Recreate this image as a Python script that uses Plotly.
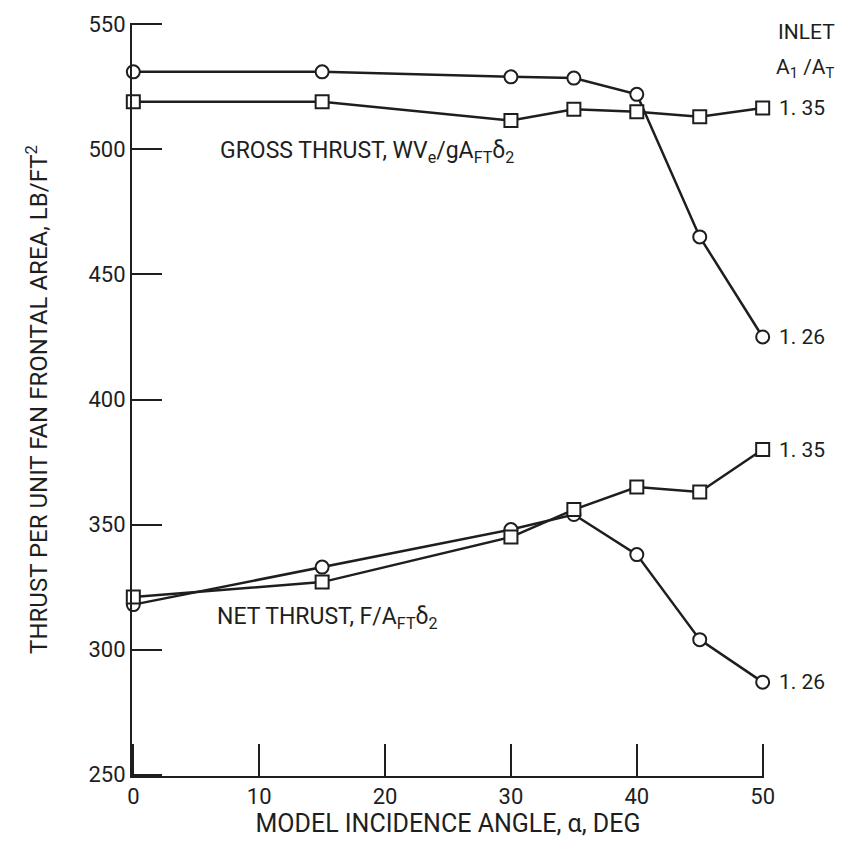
import plotly.graph_objects as go

angle = [0, 15, 30, 35, 40, 45, 50]

gross_126 = [531, 531, 529, 528.5, 522, 465, 425]
gross_135 = [519, 519, 511.5, 516, 515, 513, 516.5]
net_126 = [318, 333, 348, 354, 338, 304, 287]
net_135 = [321, 327, 345, 356, 365, 363, 380]

x_ticks = [0, 10, 20, 30, 40, 50]
y_ticks = [250, 300, 350, 400, 450, 500, 550]

FONT = "Roboto, Liberation Sans, sans-serif"
INK = "#1e1e1e"

fig = go.Figure()

def add(y, sym):
    fig.add_trace(go.Scatter(
        x=angle, y=y, mode="lines+markers",
        line=dict(color=INK, width=2.5),
        marker=dict(symbol=sym, size=13, color="white",
                    line=dict(color=INK, width=2)),
        showlegend=False, cliponaxis=False))

add(gross_126, "circle")
add(gross_135, "square")
add(net_126, "circle")
add(net_135, "square")

ann = []
def label(x, y, text, xanchor="left", xshift=0, yshift=0, size=21):
    ann.append(dict(x=x, y=y, text=text, showarrow=False, xanchor=xanchor,
                    yanchor="middle", xshift=xshift, yshift=yshift,
                    font=dict(family=FONT, size=size, color=INK)))

label(50, gross_135[-1], "1. 35", xshift=14)
label(50, gross_126[-1], "1. 26", xshift=14)
label(50, net_135[-1], "1. 35", xshift=14)
label(50, net_126[-1], "1. 26", xshift=14)
label(6.7, 499, "GROSS THRUST, WV<sub>e</sub>/gA<sub>FT</sub>δ<sub>2</sub>", size=23)
label(6.5, 312.5, "NET THRUST, F/A<sub>FT</sub>δ<sub>2</sub>", size=23)
ann.append(dict(xref="paper", yref="paper", x=1.0, y=1.0, xshift=42, yshift=-9,
                text="INLET", showarrow=False, xanchor="center", yanchor="middle",
                font=dict(family=FONT, size=21, color=INK)))
ann.append(dict(xref="paper", yref="paper", x=1.0, y=1.0, xshift=41, yshift=-45,
                text="A<sub>1</sub> /A<sub>T</sub>", showarrow=False, xanchor="center",
                yanchor="middle", font=dict(family=FONT, size=21, color=INK)))

fig.update_layout(
    width=844, height=845,
    margin=dict(l=132, r=80, t=18, b=69),
    paper_bgcolor="white", plot_bgcolor="white",
    annotations=ann,
    xaxis=dict(range=[-0.105, 50.105], tickvals=x_ticks, ticks="inside", ticklen=32,
               tickwidth=2, tickcolor=INK, showline=True, linecolor=INK,
               linewidth=2, showgrid=False, zeroline=False,
               tickfont=dict(family=FONT, size=22, color=INK),
               title=dict(text="MODEL INCIDENCE ANGLE, α, DEG", standoff=5,
                          font=dict(family=FONT, size=25, color=INK))),
    yaxis=dict(range=[249.48, 550.52], tickvals=y_ticks, ticks="inside", ticklen=30,
               tickwidth=2, tickcolor=INK, showline=True, linecolor=INK,
               linewidth=2, showgrid=False, zeroline=False,
               tickfont=dict(family=FONT, size=22, color=INK),
               title=dict(text="THRUST PER UNIT FAN FRONTAL AREA, LB/FT<sup>2</sup>",
                          standoff=34,
                          font=dict(family=FONT, size=24, color=INK))),
)

fig.write_html("out.html")
